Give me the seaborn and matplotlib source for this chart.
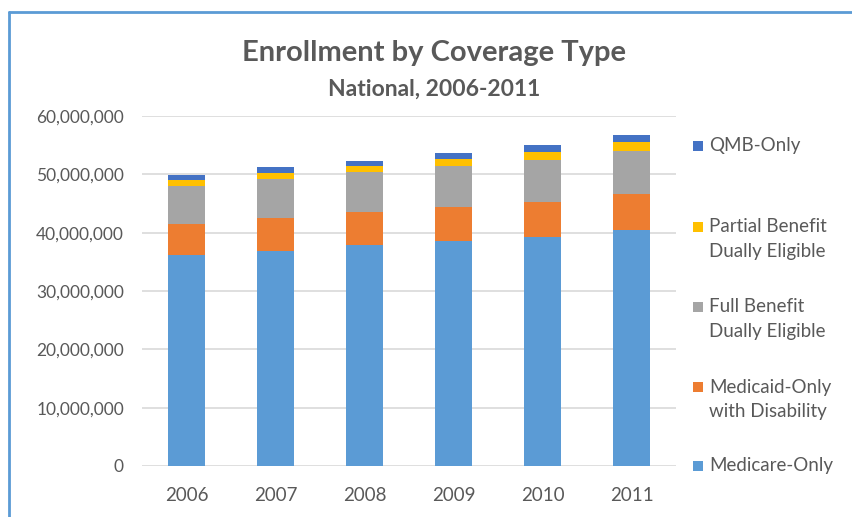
import matplotlib
matplotlib.use("Agg")
import matplotlib.pyplot as plt
import seaborn as sns
import numpy as np
import pandas as pd
from matplotlib.patches import Rectangle
from matplotlib.lines import Line2D

years = ["2006", "2007", "2008", "2009", "2010", "2011"]
medicare_only = [36.15e6, 36.84e6, 37.82e6, 38.63e6, 39.25e6, 40.45e6]
medicaid_disability = [5.40e6, 5.62e6, 5.67e6, 5.77e6, 5.95e6, 6.14e6]
full_benefit = [6.53e6, 6.81e6, 6.88e6, 7.08e6, 7.20e6, 7.37e6]
partial_benefit = [0.97e6, 0.93e6, 1.03e6, 1.12e6, 1.37e6, 1.54e6]
qmb_only = [0.85e6, 0.98e6, 0.97e6, 1.00e6, 1.20e6, 1.20e6]

series_labels = ["Medicare-Only", "Medicaid-Only\nwith Disability",
                 "Full Benefit\nDually Eligible", "Partial Benefit\nDually Eligible",
                 "QMB-Only"]
series_values = [medicare_only, medicaid_disability, full_benefit, partial_benefit, qmb_only]
colors = ["#5B9BD5", "#ED7D31", "#A5A5A5", "#FFC000", "#4472C4"]
yticks = [0, 10e6, 20e6, 30e6, 40e6, 50e6, 60e6]

sns.set_theme(style="white")
plt.rcParams["font.family"] = ["Lato", "DejaVu Sans"]
text_color = "#595959"

fig = plt.figure(figsize=(8.52, 5.17), dpi=100)
ax = fig.add_axes([142/852, 1-466/517, (676-142)/852, (466-116)/517])

bottom = np.zeros(len(years))
for vals, col, lab in zip(series_values, colors, series_labels):
    df = pd.DataFrame({"year": years, "value": vals})
    sns.barplot(data=df, x="year", y="value", color=col, ax=ax, width=0.41,
                bottom=bottom, saturation=1, edgecolor="none", linewidth=0, zorder=3)
    bottom = bottom + np.array(vals)

ax.set_ylim(0, 60e6)
ax.set_xlim(-0.5, 5.5)
ax.set_yticks(yticks)
ax.set_yticklabels([f"{int(v):,}" for v in yticks])
ax.set_xlabel("")
ax.set_ylabel("")
for s in ax.spines.values():
    s.set_visible(False)
ax.yaxis.grid(True, color="#D9D9D9", linewidth=1.2, zorder=0)
ax.set_axisbelow(True)
ax.tick_params(axis="y", length=0, pad=13, labelsize=12.5, labelcolor=text_color)
ax.tick_params(axis="x", length=0, pad=15, labelsize=13.5, labelcolor=text_color)

fig.text(434/852, 1-53/517, "Enrollment by Coverage Type", ha="center", va="center",
         fontsize=21, fontweight="bold", color=text_color)
fig.text(434/852, 1-89/517, "National, 2006-2011", ha="center", va="center",
         fontsize=16.5, fontweight="bold", color=text_color)

# legend (top to bottom)
leg_centers = [146, 239, 319, 399, 466]
for lab, col, yc in zip(series_labels[::-1], colors[::-1], leg_centers):
    nlines = lab.count("\n") + 1
    sq_y = yc if nlines == 1 else yc - 12.5
    fig.add_artist(Rectangle((693/852, 1-(sq_y+5)/517), 10/852, 10/517,
                             transform=fig.transFigure, facecolor=col, edgecolor="none"))
    fig.text(709/852, 1-yc/517, lab, ha="left", va="center", fontsize=13.5,
             color=text_color, linespacing=1.5)

# chart border
fig.add_artist(Line2D([9/852, 9/852], [0, 1-12/517], transform=fig.transFigure,
                      color="#5B9BD5", linewidth=2))
fig.add_artist(Line2D([9/852, 1], [1-12/517, 1-12/517], transform=fig.transFigure,
                      color="#5B9BD5", linewidth=2))

fig.savefig("out.png", dpi=100)
